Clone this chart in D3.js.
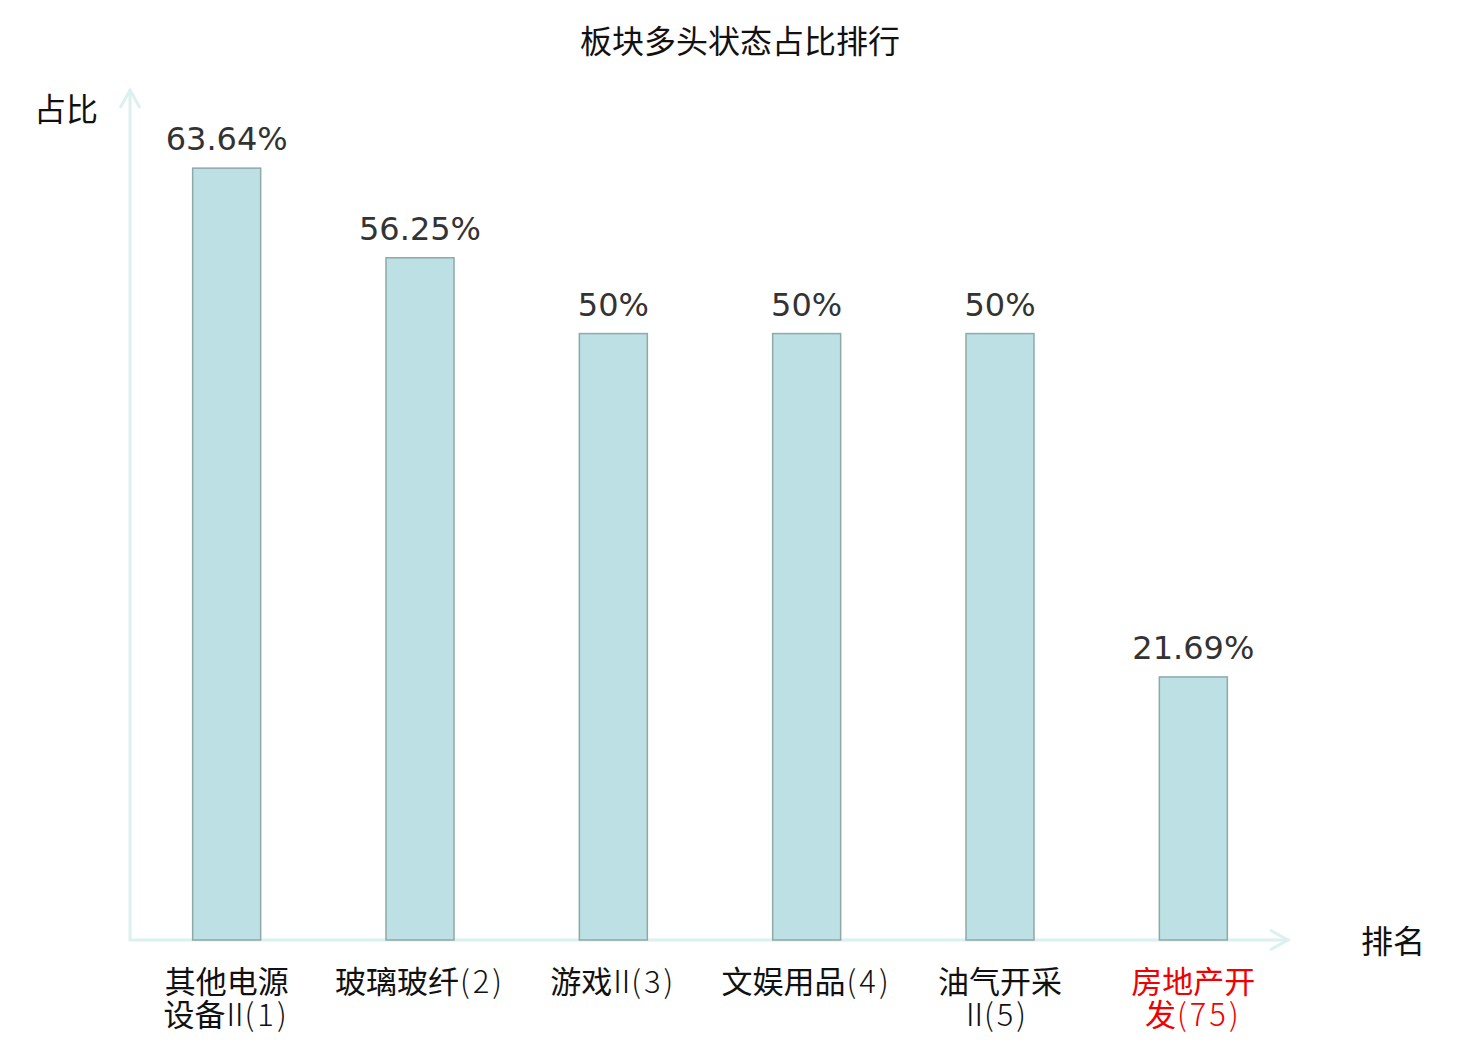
<!DOCTYPE html>
<html>
<head>
<meta charset="utf-8">
<script src="https://cdn.jsdelivr.net/npm/d3@7"></script>
<style>
  body { margin: 0; background: #fff; }
</style>
</head>
<body>
<script>
// data
const categories = ["其他电源设备Ⅱ", "玻璃玻纤", "游戏Ⅱ", "文娱用品", "油气开采Ⅱ", "房地产开发"];
const ranks = [1, 2, 3, 4, 5, 75];
const shares = [63.64, 56.25, 50, 50, 50, 21.69];
const shareLabels = ["63.64%", "56.25%", "50%", "50%", "50%", "21.69%"];
const highlight = [false, false, false, false, false, true];

const W = 1480, H = 1040;
const axisColor = "#dcf1ee";
const cjkFont = "'Noto Sans CJK SC'";
const thinFont = "'Noto Sans CJK SC Light', 'Noto Sans CJK SC'";

const svg = d3.select("body").append("svg")
  .attr("width", W)
  .attr("height", H);

const x = d3.scaleBand()
  .domain(categories)
  .range([130, 1290]);

const y = d3.scaleLinear()
  .domain([0, 70])
  .range([940, 91]);

const barW = 68;

// title
svg.append("text")
  .attr("x", 740)
  .attr("y", 53)
  .attr("text-anchor", "middle")
  .style("font-family", cjkFont)
  .style("font-size", "32px")
  .style("fill", "#111")
  .text("板块多头状态占比排行");

// axis lines + open arrow heads
function arrowLine(x1, y1, x2, y2) {
  svg.append("line")
    .attr("x1", x1).attr("y1", y1).attr("x2", x2).attr("y2", y2)
    .attr("stroke", axisColor)
    .attr("stroke-width", 3);
}
arrowLine(130, 941, 130, 90);
svg.append("path")
  .attr("d", "M120,108L130,90L140,108")
  .attr("fill", "none").attr("stroke", axisColor).attr("stroke-width", 3);
arrowLine(129, 940, 1289, 940);
svg.append("path")
  .attr("d", "M1270,930L1288,940L1270,950")
  .attr("fill", "none").attr("stroke", axisColor).attr("stroke-width", 3);

// axis names
svg.append("text")
  .attr("x", 34).attr("y", 121)
  .style("font-family", cjkFont)
  .style("font-size", "32px")
  .style("fill", "#111")
  .text("占比");
svg.append("text")
  .attr("x", 1361).attr("y", 953)
  .style("font-family", cjkFont)
  .style("font-size", "32px")
  .style("fill", "#111")
  .text("排名");

// bars
svg.selectAll("rect.bar")
  .data(categories)
  .join("rect")
  .attr("class", "bar")
  .attr("x", d => x(d) + x.bandwidth() / 2 - barW / 2)
  .attr("y", (d, i) => y(shares[i]))
  .attr("width", barW)
  .attr("height", (d, i) => y(0) - y(shares[i]))
  .attr("fill", "#bce0e3")
  .attr("stroke", "#8ea9a9")
  .attr("stroke-width", 1.5);

// value labels
svg.selectAll("text.val")
  .data(categories)
  .join("text")
  .attr("class", "val")
  .attr("x", d => x(d) + x.bandwidth() / 2)
  .attr("y", (d, i) => y(shares[i]) - 18)
  .attr("text-anchor", "middle")
  .style("font-family", "'DejaVu Sans'")
  .style("font-size", "32px")
  .style("fill", "#333")
  .text((d, i) => shareLabels[i]);

// category labels: long ones break after the 4th char
function splitLabel(s) {
  const chars = Array.from(s);
  if (chars.length <= 7) return [s];
  return [chars.slice(0, 4).join(""), chars.slice(4).join("")];
}

categories.forEach((d, i) => {
  const lines = splitLabel(d + "(" + ranks[i] + ")");
  lines.forEach((ln, j) => {
    const t = svg.append("text")
      .attr("class", "cat")
      .attr("x", x(d) + x.bandwidth() / 2)
      .attr("y", 993 + j * 33)
      .attr("text-anchor", "middle")
      .style("font-size", "31px")
      .style("fill", highlight[i] ? "#f00000" : "#111");
    const parts = ln.match(/[\u4e00-\u9fff]+|Ⅱ|[^\u4e00-\u9fffⅡ]+/g);
    parts.forEach(p => {
      const s = t.append("tspan").text(p);
      if (/[\u4e00-\u9fff]/.test(p)) {
        s.style("font-family", cjkFont);
      } else if (p === "Ⅱ") {
        s.attr("dx", -6)
          .style("font-family", thinFont)
          .style("font-weight", 200)
          .style("letter-spacing", "-7px");
      } else {
        s.attr("dx", 1)
          .style("font-family", thinFont)
          .style("font-weight", 200)
          .style("letter-spacing", "3px");
      }
    });
  });
});
</script>
</body>
</html>
